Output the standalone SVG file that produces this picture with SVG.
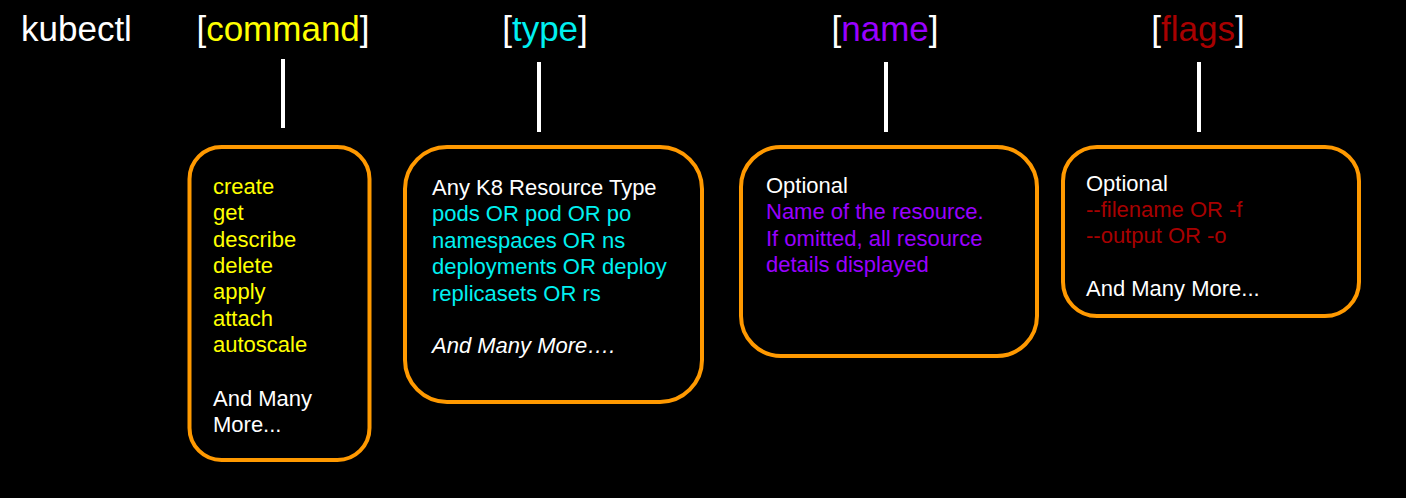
<svg xmlns="http://www.w3.org/2000/svg" width="1406" height="498" viewBox="0 0 1406 498">
<style>
.hdr{font-family:"Liberation Sans",Arial,sans-serif;font-size:35px;fill:#FFFFFF}
.t{font-family:"Liberation Sans",Arial,sans-serif;font-size:22px}
.box{fill:#000000;stroke:#FF9900;stroke-width:4}
.conn{stroke:#FFFFFF;stroke-width:4}
.w{fill:#FFFFFF}.y{fill:#FFFF00}.c{fill:#00F0F0}.p{fill:#9900FF}.r{fill:#A80000}
</style>
<rect x="0" y="0" width="1406" height="498" fill="#000000"/>
<g id="headers">
<text class="hdr" x="21" y="41">kubectl</text>
<text class="hdr" x="283" y="41" text-anchor="middle">[<tspan class="y">command</tspan>]</text>
<text class="hdr" x="545" y="41" text-anchor="middle">[<tspan class="c">type</tspan>]</text>
<text class="hdr" x="885" y="41" text-anchor="middle">[<tspan class="p">name</tspan>]</text>
<text class="hdr" x="1198" y="41" text-anchor="middle">[<tspan class="r">flags</tspan>]</text>
</g>
<g id="connectors">
<line class="conn" x1="283" y1="59" x2="283" y2="128"/>
<line class="conn" x1="539" y1="62" x2="539" y2="132"/>
<line class="conn" x1="886" y1="62" x2="886" y2="132"/>
<line class="conn" x1="1199" y1="62" x2="1199" y2="132"/>
</g>
<g id="command">
<rect class="box" x="189.5" y="147" width="180" height="313" rx="32"/>
<text class="t y" x="213" y="193.5">create</text>
<text class="t y" x="213" y="220">get</text>
<text class="t y" x="213" y="246.5">describe</text>
<text class="t y" x="213" y="273">delete</text>
<text class="t y" x="213" y="299">apply</text>
<text class="t y" x="213" y="325.5">attach</text>
<text class="t y" x="213" y="352">autoscale</text>
<text class="t w" x="213" y="405.5">And Many</text>
<text class="t w" x="213" y="431.5">More...</text>
</g>
<g id="type">
<rect class="box" x="405" y="147" width="297" height="255" rx="42"/>
<text class="t w" x="432" y="194.5">Any K8 Resource Type</text>
<text class="t c" x="432" y="221">pods OR pod OR po</text>
<text class="t c" x="432" y="247.5">namespaces OR ns</text>
<text class="t c" x="432" y="274">deployments OR deploy</text>
<text class="t c" x="432" y="300.5">replicasets OR rs</text>
<text class="t w" x="432" y="353" font-style="italic">And Many More….</text>
</g>
<g id="name">
<rect class="box" x="741" y="147" width="296" height="209" rx="40"/>
<text class="t w" x="766" y="192.5">Optional</text>
<text class="t p" x="766" y="219">Name of the resource.</text>
<text class="t p" x="766" y="245.5">If omitted, all resource</text>
<text class="t p" x="766" y="272">details displayed</text>
</g>
<g id="flags">
<rect class="box" x="1063" y="147" width="296" height="169" rx="34"/>
<text class="t w" x="1086" y="190.5">Optional</text>
<text class="t r" x="1086" y="216.5">--filename OR -f</text>
<text class="t r" x="1086" y="243">--output OR -o</text>
<text class="t w" x="1086" y="296">And Many More...</text>
</g>
</svg>
